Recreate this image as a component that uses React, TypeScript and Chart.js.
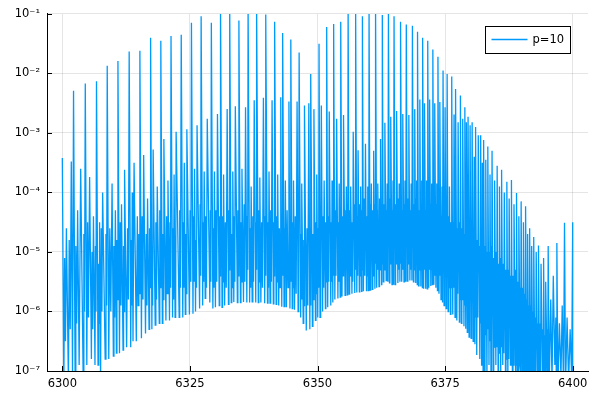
import React, { useEffect, useRef } from "react";
import { Chart, registerables } from "chart.js";

Chart.register(...registerables);

const seriesLabel = "p=10";
const xTicks = [6300, 6325, 6350, 6375, 6400];
const yTicks = [1e-7, 1e-6, 1e-5, 1e-4, 1e-3, 1e-2, 1e-1];
const yTickLabels = ["10⁻⁷", "10⁻⁶", "10⁻⁵", "10⁻⁴", "10⁻³", "10⁻²", "10⁻¹"];

// main lines: wavenumber positions and log10 intensity (peaks and valleys)
const segAX = [
  6300.0, 6300.3, 6300.8, 6301.2, 6301.76, 6302.0,
  6302.2, 6302.5, 6303.0, 6303.3, 6303.6, 6304.1,
  6304.5, 6304.8, 6305.35, 6305.7, 6306.1, 6306.4,
  6306.7, 6307.0, 6307.3, 6307.5, 6307.9, 6308.4,
  6308.8, 6309.1, 6309.75, 6310.0, 6310.4, 6310.6,
  6310.9, 6311.2, 6311.6, 6311.9, 6312.2, 6312.6,
  6313.1, 6313.4, 6313.7, 6313.85, 6314.06, 6314.5,
  6315.2, 6315.5, 6315.94, 6316.3, 6316.7, 6317.0,
  6317.3, 6317.55, 6317.8, 6318.2, 6318.6, 6319.0,
  6319.3, 6319.6, 6319.9, 6320.3, 6320.7, 6321.0,
  6321.3, 6321.6, 6321.9, 6322.1, 6322.3, 6322.9,
];
const segALog = [
  -3.42, -7.3, -4.6, -7.2, -3.48, -7.1,
  -2.29, -7.0, -4.3, -6.9, -3.6, -7.2,
  -2.17, -6.9, -3.74, -6.8, -4.4, -6.9,
  -2.13, -6.9, -4.5, -7.2, -4.0, -6.8,
  -1.87, -6.8, -3.85, -6.75, -4.3, -6.7,
  -1.79, -6.7, -4.2, -6.65, -3.62, -6.6,
  -1.63, -6.6, -4.0, -6.5, -3.5, -6.5,
  -1.62, -6.45, -3.37, -6.37, -4.1, -6.3,
  -1.40, -6.3, -3.28, -6.23, -3.9, -6.2,
  -1.45, -6.2, -3.1, -6.15, -3.8, -6.15,
  -1.37, -6.1, -3.7, -6.1, -2.98, -6.1,
];
const segBX = [
  6323.3, 6323.6, 6323.9, 6324.1, 6324.4, 6324.9,
  6325.3, 6325.6, 6325.9, 6326.1, 6326.4, 6326.9,
  6327.2, 6327.5, 6327.8, 6328.0, 6328.4, 6328.9,
  6329.2, 6329.5, 6329.8, 6330.0, 6330.4, 6330.75,
  6331.0, 6331.3, 6331.6, 6331.8, 6332.3, 6332.55,
  6332.8, 6333.1, 6333.4, 6333.6, 6333.9, 6334.3,
  6334.6, 6334.9, 6335.2, 6335.5, 6335.9, 6336.15,
  6336.4, 6336.7, 6337.0, 6337.2, 6337.6, 6337.9,
  6338.1, 6338.4, 6338.7, 6338.9, 6339.4, 6339.65,
  6339.9, 6340.2, 6340.5, 6340.7, 6341.1, 6341.35,
  6341.6, 6341.9, 6342.2, 6342.4, 6342.8, 6343.0,
  6343.2, 6343.45, 6343.7, 6343.9, 6344.4, 6344.6,
  6344.8, 6345.05, 6345.3, 6345.5, 6346.0, 6346.2,
  6346.4, 6346.7, 6346.95, 6347.2, 6347.45, 6347.8, 6348.3, 6348.5,
];
const segBLog = [
  -1.35, -6.1, -3.5, -6.05, -2.94, -6.05,
  -1.15, -6.04, -3.6, -6.0, -2.87, -5.95,
  -1.04, -5.9, -3.65, -5.78, -2.76, -5.85,
  -1.15, -5.95, -3.65, -5.93, -2.68, -5.9,
  -0.85, -5.93, -3.7, -5.9, -2.6, -5.88,
  -0.9, -5.85, -3.65, -5.84, -2.55, -5.85,
  -1.11, -5.85, -3.6, -5.84, -2.57, -5.85,
  -0.85, -5.85, -3.9, -5.84, -2.45, -5.85,
  -0.9, -5.85, -3.75, -5.85, -2.41, -5.86,
  -1.01, -5.86, -3.65, -5.86, -2.45, -5.87,
  -1.13, -5.88, -3.7, -5.9, -2.4, -5.92,
  -1.32, -5.92, -3.8, -5.93, -2.47, -5.95,
  -1.43, -5.95, -3.8, -5.97, -2.47, -6.0,
  -1.65, -6.1, -3.85, -6.2, -2.54, -6.32, -2.5, -6.3,
];
const segCX = [
  6348.7, 6349.0, 6349.3, 6349.6, 6349.85, 6350.05,
  6350.3, 6350.5, 6350.75, 6351.0, 6351.3, 6351.55,
  6351.8, 6352.0, 6352.3, 6352.6, 6352.85, 6353.0,
  6353.2, 6353.4, 6353.75, 6354.0, 6354.25, 6354.45,
  6354.6, 6354.8, 6355.1, 6355.4, 6355.65, 6355.85,
  6356.0, 6356.2, 6356.5, 6356.75, 6357.0, 6357.3,
  6357.5, 6357.7, 6357.95, 6358.2, 6358.45, 6358.65,
  6358.8, 6359.0, 6359.4, 6359.6, 6359.85, 6360.0,
  6360.1, 6360.3, 6360.55, 6360.75, 6361.0, 6361.25,
  6361.4, 6361.6, 6361.85, 6362.05, 6362.35, 6362.55,
  6362.7, 6362.9, 6363.2, 6363.45, 6363.65, 6363.8,
  6363.9, 6364.1, 6364.35, 6364.6, 6364.8, 6364.9,
  6365.0, 6365.2, 6365.5, 6365.75, 6366.0, 6366.15,
  6366.3, 6366.5, 6366.75, 6366.95, 6367.15, 6367.3,
  6367.4, 6367.6, 6367.9, 6368.1, 6368.35, 6368.5,
  6368.6, 6368.8, 6369.05, 6369.25, 6369.45, 6369.55,
  6369.6, 6369.8, 6370.05, 6370.25, 6370.45, 6370.55,
  6370.6, 6370.8, 6371.0, 6371.2, 6371.4, 6371.5,
  6371.6, 6371.8, 6372.0, 6372.2, 6372.4, 6372.5,
  6372.6, 6372.8, 6373.0, 6373.2, 6373.4, 6373.5,
];
const segCLog = [
  -2.01, -6.25, -2.6, -6.15, -3.7, -6.1,
  -1.50, -6.1, -2.54, -6.0, -3.8, -5.95,
  -1.22, -5.93, -2.64, -5.9, -3.8, -5.85,
  -1.17, -5.8, -2.76, -5.78, -3.85, -5.76,
  -1.13, -5.75, -2.7, -5.73, -3.9, -5.72,
  -0.9, -5.71, -3.9, -5.7, -2.98, -5.69,
  -0.88, -5.68, -3.29, -5.67, -3.9, -5.66,
  -1.04, -5.66, -3.18, -5.65, -3.9, -5.65,
  -0.9, -5.64, -3.85, -5.63, -3.3, -5.62,
  -0.85, -5.6, -3.85, -5.58, -3.1, -5.55,
  -1.02, -5.5, -2.83, -5.48, -3.85, -5.5,
  -0.92, -5.52, -2.73, -5.55, -3.8, -5.55,
  -1.04, -5.55, -2.63, -5.52, -3.85, -5.5,
  -1.13, -5.5, -2.68, -5.5, -3.8, -5.5,
  -1.18, -5.49, -2.7, -5.48, -3.85, -5.48,
  -1.2, -5.5, -2.6, -5.52, -3.8, -5.55,
  -1.3, -5.57, -2.44, -5.58, -3.8, -5.6,
  -1.4, -5.62, -2.5, -5.62, -3.8, -5.62,
  -1.45, -5.6, -2.44, -5.57, -3.85, -5.55,
  -1.6, -5.55, -2.5, -5.6, -3.85, -5.65,
];
const segDX = [
  6373.6, 6373.8, 6374.0, 6374.2, 6374.4, 6374.5,
  6374.6, 6374.8, 6375.0, 6375.2,
  6375.4, 6375.6, 6375.85, 6376.05,
  6376.3, 6376.5, 6376.75, 6376.95,
  6377.1, 6377.3, 6377.55, 6377.8,
  6378.0, 6378.2, 6378.45, 6378.7,
  6378.9, 6379.05, 6379.2, 6379.35,
  6379.5, 6379.7, 6379.9, 6380.1,
  6380.3, 6380.5, 6380.7, 6380.85,
  6381.0, 6381.2, 6381.5, 6381.8,
  6382.0, 6382.15, 6382.3, 6382.45,
  6382.6, 6382.8, 6383.0, 6383.2,
  6383.4, 6383.6, 6383.8, 6384.0,
  6384.2, 6384.45, 6384.7, 6384.95,
  6385.2, 6385.4, 6385.65, 6385.9,
  6386.1, 6386.3, 6386.6, 6386.85,
  6387.1, 6387.3, 6387.55, 6387.8,
  6388.0, 6388.2, 6388.5, 6388.8,
  6389.0, 6389.2, 6389.45, 6389.7,
  6389.9, 6390.1, 6390.35, 6390.6,
  6390.8, 6391.0, 6391.2, 6391.4,
  6391.6, 6391.8, 6392.0, 6392.2,
  6392.4, 6392.6, 6392.85, 6393.1,
  6393.3, 6393.5, 6393.8, 6394.1,
  6394.3, 6394.5, 6394.75, 6395.0,
  6395.2, 6395.4, 6395.7, 6395.95, 6396.2, 6396.5, 6396.7, 6396.8,
  6396.9, 6397.1, 6397.4, 6397.7, 6397.95, 6398.2,
  6398.4, 6398.6, 6398.9, 6399.2, 6399.5, 6399.8,
  6400.0, 6400.0,
];
const segDLog = [
  -1.72, -5.7, -2.48, -5.8, -3.9, -5.85,
  -1.95, -5.9, -2.57, -5.95,
  -2.01, -6.0, -3.9, -6.05,
  -2.05, -6.05, -2.69, -6.1,
  -2.26, -6.15, -2.82, -6.18,
  -2.37, -6.2, -2.76, -6.25,
  -2.57, -6.29, -2.82, -6.35,
  -2.73, -6.43, -2.87, -6.45,
  -2.82, -6.5, -3.4, -6.55,
  -2.9, -6.73, -3.04, -6.8,
  -3.04, -6.9, -3.5, -7.1,
  -3.12, -7.3, -3.45, -7.2,
  -3.23, -6.9, -3.7, -7.3,
  -3.3, -7.2, -3.8, -6.9,
  -3.55, -7.3, -3.9, -7.0,
  -3.62, -6.9, -4.0, -7.3,
  -3.82, -7.2, -4.1, -6.9,
  -3.79, -7.3, -4.2, -7.0,
  -4.01, -7.3, -4.4, -6.9,
  -4.15, -7.3, -4.5, -7.1,
  -4.23, -7.3, -4.7, -7.1,
  -4.6, -7.2, -4.9, -7.3,
  -4.75, -7.3, -5.0, -7.0,
  -4.89, -7.3, -5.2, -7.1,
  -5.1, -7.3, -5.5, -7.1,
  -4.9, -7.3, -5.8, -7.2, -5.4, -6.9, -6.1, -7.3,
  -4.85, -7.3, -6.2, -7.1, -5.9, -7.3,
  -4.51, -7.3, -6.1, -7.2, -6.3, -7.1,
  -4.5, -7.3,
];

// weak lines (small peak then shallow dip): [wavenumber, log10 intensity]
const grassA: [number, number][] = [
  [6300.45, -5.1], [6300.62, -6.5], [6301.35, -4.8], [6301.55, -6.3],
  [6302.65, -4.9], [6302.82, -6.2], [6304.22, -4.7], [6304.35, -6.0],
  [6304.95, -4.5], [6305.12, -6.1], [6305.82, -5.0], [6305.95, -6.3], [6306.5, -4.9], [6306.6, -6.0],
  [6307.12, -5.2], [6307.2, -6.2], [6307.63, -4.6], [6307.76, -6.0], [6308.55, -4.7], [6308.68, -5.9],
  [6309.3, -4.6], [6309.5, -6.0], [6310.12, -4.9], [6310.25, -6.1], [6310.7, -4.8], [6310.8, -5.8],
  [6311.35, -4.5], [6311.48, -5.9], [6312.0, -4.9], [6312.1, -6.0], [6312.78, -4.6], [6312.95, -5.8],
  [6313.52, -4.8], [6313.62, -5.9], [6314.7, -4.4], [6314.85, -5.9], [6315.0, -4.7], [6315.1, -5.7],
  [6315.65, -4.4], [6315.8, -5.8], [6316.45, -4.7], [6316.58, -5.9], [6317.1, -4.6], [6317.2, -5.6],
  [6317.63, -4.9], [6317.7, -5.9], [6318.33, -4.5], [6318.47, -5.8], [6319.1, -4.3], [6319.2, -5.6],
  [6319.7, -4.7], [6319.8, -5.8], [6320.43, -4.4], [6320.57, -5.7], [6321.1, -4.5], [6321.2, -5.6],
  [6321.7, -4.6], [6321.8, -5.8], [6322.18, -4.8], [6322.24, -5.9], [6323.0, -4.3], [6323.15, -5.6],
];
const grassB: [number, number][] = [
  [6323.7, -4.5], [6323.8, -5.6], [6324.2, -4.7], [6324.3, -5.7], [6325.05, -4.3], [6325.18, -5.5],
  [6325.7, -4.4], [6325.8, -5.5], [6326.2, -4.8], [6326.3, -5.6], [6327.0, -4.2], [6327.1, -5.4],
  [6327.6, -4.5], [6327.7, -5.5], [6328.1, -4.4], [6328.25, -5.6], [6329.0, -4.3], [6329.1, -5.5],
  [6329.6, -4.6], [6329.7, -5.6], [6330.12, -4.3], [6330.26, -5.5], [6330.85, -4.4], [6330.93, -5.4],
  [6331.4, -4.4], [6331.5, -5.5], [6331.95, -4.5], [6332.12, -5.6], [6332.65, -4.3], [6332.72, -5.3],
  [6333.2, -4.7], [6333.3, -5.6], [6333.7, -4.4], [6333.8, -5.5], [6334.4, -4.3], [6334.5, -5.4],
  [6335.0, -4.5], [6335.1, -5.5], [6335.63, -4.2], [6335.77, -5.5], [6336.25, -4.4], [6336.32, -5.3],
  [6336.8, -4.6], [6336.9, -5.6], [6337.33, -4.4], [6337.46, -5.5], [6337.98, -4.5], [6338.04, -5.3],
  [6338.5, -4.3], [6338.6, -5.5], [6339.05, -4.5], [6339.22, -5.6], [6339.75, -4.4], [6339.82, -5.4],
  [6340.3, -4.5], [6340.4, -5.6], [6340.83, -4.3], [6340.96, -5.5], [6341.45, -4.5], [6341.52, -5.4],
  [6342.0, -4.4], [6342.1, -5.5], [6342.53, -4.6], [6342.66, -5.6], [6343.08, -4.4], [6343.14, -5.4],
  [6343.55, -4.6], [6343.62, -5.6], [6344.05, -4.3], [6344.22, -5.6], [6344.68, -4.5], [6344.74, -5.5],
  [6345.15, -4.5], [6345.22, -5.6], [6345.65, -4.4], [6345.82, -5.7], [6346.28, -4.6], [6346.34, -5.6],
  [6346.8, -4.7], [6346.87, -5.8], [6347.3, -4.8], [6347.37, -5.9], [6347.95, -4.6], [6348.1, -5.9],
  [6348.58, -4.8], [6348.64, -5.9],
];
const grassC: [number, number][] = [
  [6349.1, -4.7], [6349.2, -5.8], [6349.7, -4.5], [6349.77, -5.7], [6350.13, -4.6], [6350.22, -5.6],
  [6350.58, -4.5], [6350.66, -5.6], [6351.1, -4.4], [6351.2, -5.6], [6351.63, -4.5], [6351.72, -5.5],
  [6352.1, -4.4], [6352.2, -5.5], [6352.68, -4.5], [6352.77, -5.5], [6353.07, -4.3], [6353.13, -5.4],
  [6353.5, -4.3], [6353.62, -5.4], [6354.08, -4.5], [6354.17, -5.5], [6354.5, -4.4], [6354.55, -5.3],
  [6354.9, -4.4], [6355.0, -5.4], [6355.48, -4.3], [6355.57, -5.5], [6355.9, -4.2], [6355.95, -5.3],
  [6356.3, -4.3], [6356.4, -5.4], [6356.83, -4.5], [6356.92, -5.5], [6357.37, -4.2], [6357.44, -5.3],
  [6357.78, -4.4], [6357.87, -5.4], [6358.28, -4.2], [6358.37, -5.4], [6358.7, -4.3], [6358.75, -5.3],
  [6359.12, -4.1], [6359.26, -5.4], [6359.68, -4.4], [6359.77, -5.4], [6360.04, -4.3], [6360.07, -5.2],
  [6360.38, -4.2], [6360.47, -5.3], [6360.83, -4.3], [6360.92, -5.4], [6361.3, -4.2], [6361.35, -5.2],
  [6361.68, -4.3], [6361.77, -5.3], [6362.15, -4.1], [6362.25, -5.3], [6362.6, -4.2], [6362.65, -5.2],
  [6363.0, -4.2], [6363.1, -5.3], [6363.52, -4.3], [6363.59, -5.2],
  [6364.18, -4.1], [6364.27, -5.2], [6364.67, -4.3], [6364.74, -5.2],
  [6365.3, -4.2], [6365.4, -5.2], [6365.83, -4.1], [6365.92, -5.3], [6366.2, -4.3], [6366.25, -5.2],
  [6366.58, -4.3], [6366.67, -5.3], [6367.02, -4.2], [6367.09, -5.2],
  [6367.7, -4.1], [6367.8, -5.2], [6368.18, -4.3], [6368.27, -5.3],
  [6368.88, -4.2], [6368.97, -5.3], [6369.32, -4.1], [6369.39, -5.2],
  [6369.88, -4.3], [6369.97, -5.3], [6370.32, -4.2], [6370.39, -5.3],
  [6370.87, -4.2], [6370.94, -5.3], [6371.27, -4.3], [6371.34, -5.3],
  [6371.87, -4.1], [6371.94, -5.3], [6372.27, -4.2], [6372.34, -5.3],
  [6372.87, -4.3], [6372.94, -5.4], [6373.27, -4.2], [6373.34, -5.4],
];
const grassD: [number, number][] = [
  [6373.87, -4.3], [6373.94, -5.4], [6374.27, -4.4], [6374.34, -5.5],
  [6374.87, -4.3], [6374.94, -5.5], [6375.27, -4.5], [6375.34, -5.6],
  [6375.68, -4.4], [6375.77, -5.6], [6376.13, -4.5], [6376.22, -5.6],
  [6376.58, -4.5], [6376.67, -5.6], [6377.0, -4.4], [6377.05, -5.7],
  [6377.38, -4.6], [6377.47, -5.7], [6377.88, -4.5], [6377.94, -5.8],
  [6378.28, -4.6], [6378.37, -5.8], [6378.78, -4.7], [6378.84, -5.9],
  [6379.1, -4.7], [6379.15, -5.9], [6379.4, -4.6], [6379.45, -5.9],
  [6379.77, -4.7], [6379.83, -6.0], [6380.17, -4.8], [6380.23, -6.0],
  [6380.57, -4.8], [6380.63, -6.1], [6380.9, -4.7], [6380.95, -6.1],
  [6381.3, -4.8], [6381.4, -6.1], [6381.87, -4.9], [6381.94, -6.2],
  [6382.2, -4.9], [6382.25, -6.3], [6382.5, -5.0], [6382.55, -6.4],
  [6382.87, -4.9], [6382.94, -6.4], [6383.27, -5.0], [6383.34, -6.3],
  [6383.67, -5.0], [6383.74, -6.5], [6384.07, -4.9], [6384.14, -6.5],
  [6384.53, -5.1], [6384.62, -6.6], [6385.03, -5.0], [6385.12, -6.6],
  [6385.48, -5.2], [6385.57, -6.7], [6385.98, -5.1], [6386.04, -6.6],
  [6386.4, -5.2], [6386.5, -6.7], [6386.93, -5.3], [6387.02, -6.8],
  [6387.38, -5.3], [6387.47, -6.8], [6387.88, -5.4], [6387.94, -6.9],
  [6388.3, -5.4], [6388.4, -6.9], [6388.88, -5.3], [6388.94, -6.9],
  [6389.28, -5.5], [6389.37, -7.0], [6389.78, -5.6], [6389.84, -7.0],
  [6390.18, -5.6], [6390.27, -7.1], [6390.68, -5.7], [6390.74, -7.1],
  [6391.07, -5.8], [6391.13, -7.2], [6391.47, -5.9], [6391.53, -7.2],
  [6391.87, -5.9], [6391.93, -7.3], [6392.27, -6.0], [6392.33, -7.3],
  [6392.68, -6.1], [6392.77, -7.3], [6393.18, -6.2], [6393.24, -7.3],
  [6393.6, -6.2], [6393.7, -7.3], [6394.18, -6.3], [6394.24, -7.3],
  [6394.58, -6.4], [6394.67, -7.3], [6395.08, -6.3], [6395.14, -7.3],
];

const LINE_COLOR = "#009AFA";
const FONT = '"DejaVu Sans", sans-serif';

export default function App() {
  const ref = useRef<HTMLCanvasElement | null>(null);

  useEffect(() => {
    const canvas = ref.current;
    if (!canvas) return;
    const xs = [...segAX, ...segBX, ...segCX, ...segDX];
    const ls = [...segALog, ...segBLog, ...segCLog, ...segDLog];
    const pts: [number, number][] = xs.map((x, i) => [x, ls[i]]);
    for (const g of [...grassA, ...grassB, ...grassC, ...grassD]) pts.push(g);
    pts.sort((a, b) => a[0] - b[0]);
    const data = pts.map(([x, l]) => ({ x, y: Math.pow(10, l) }));

    const innerTicks = {
      id: "innerTicks",
      afterDraw(chart: any) {
        const { ctx, chartArea, scales } = chart;
        ctx.save();
        ctx.strokeStyle = "#000";
        ctx.lineWidth = 1;
        ctx.beginPath();
        for (const v of xTicks) {
          const px = Math.round(scales.x.getPixelForValue(v)) + 0.5;
          ctx.moveTo(px, chartArea.bottom);
          ctx.lineTo(px, chartArea.bottom - 5);
        }
        for (const v of yTicks) {
          const py = Math.round(scales.y.getPixelForValue(v)) + 0.5;
          ctx.moveTo(chartArea.left, py);
          ctx.lineTo(chartArea.left + 5, py);
        }
        ctx.stroke();
        // legend box
        const bx = Math.round(chartArea.right - 103) + 0.5;
        const by = Math.round(chartArea.top + 12) + 0.5;
        const bw = 85;
        const bh = 27;
        ctx.fillStyle = "#fff";
        ctx.fillRect(bx, by, bw, bh);
        ctx.strokeStyle = "#000";
        ctx.strokeRect(bx, by, bw, bh);
        ctx.strokeStyle = LINE_COLOR;
        ctx.lineWidth = 1.5;
        ctx.beginPath();
        ctx.moveTo(bx + 6, by + 13);
        ctx.lineTo(bx + 42, by + 13);
        ctx.stroke();
        ctx.fillStyle = "#000";
        ctx.font = `11.5px ${FONT}`;
        ctx.textBaseline = "middle";
        ctx.textAlign = "left";
        ctx.fillText(seriesLabel, bx + 47, by + 14);
        ctx.restore();
      },
    };

    const chart = new Chart(canvas, {
      type: "line",
      data: {
        datasets: [
          {
            label: seriesLabel,
            data,
            borderColor: LINE_COLOR,
            backgroundColor: LINE_COLOR,
            borderWidth: 1.3,
            pointRadius: 0,
            tension: 0,
            fill: false,
          },
        ],
      },
      options: {
        responsive: false,
        animation: false,
        layout: { padding: { left: 0, right: 12, top: 11, bottom: 0 } },
        plugins: { legend: { display: false }, tooltip: { enabled: false } },
        scales: {
          x: {
            type: "linear",
            min: 6297,
            max: 6403,
            afterBuildTicks: (s: any) => {
              s.ticks = xTicks.map((v) => ({ value: v }));
            },
            afterFit: (s: any) => {
              s.height = 29;
            },
            grid: { color: "rgba(0,0,0,0.1)", drawTicks: false },
            border: { color: "#000", width: 1 },
            ticks: {
              color: "#000",
              font: { family: FONT, size: 11.5 },
              padding: 6,
              maxRotation: 0,
              autoSkip: false,
              callback: (v: any) => String(v),
            },
          },
          y: {
            type: "logarithmic",
            min: 1e-7,
            max: 1e-1,
            afterBuildTicks: (s: any) => {
              s.ticks = yTicks.map((v) => ({ value: v }));
            },
            afterFit: (s: any) => {
              s.width = 47;
            },
            grid: { color: "rgba(0,0,0,0.1)", drawTicks: false },
            border: { color: "#000", width: 1 },
            ticks: {
              color: "#000",
              font: { family: FONT, size: 11.5 },
              padding: 7,
              autoSkip: false,
              callback: (v: any) => {
                const i = yTicks.findIndex((t) => Math.abs(Math.log10(t) - Math.log10(v)) < 1e-6);
                return i >= 0 ? yTickLabels[i] : "";
              },
            },
          },
        },
      },
      plugins: [innerTicks],
    });
    return () => chart.destroy();
  }, []);

  return (
    <canvas
      ref={ref}
      width={600}
      height={400}
      style={{ position: "absolute", left: 0, top: 0, width: 600, height: 400 }}
    />
  );
}
